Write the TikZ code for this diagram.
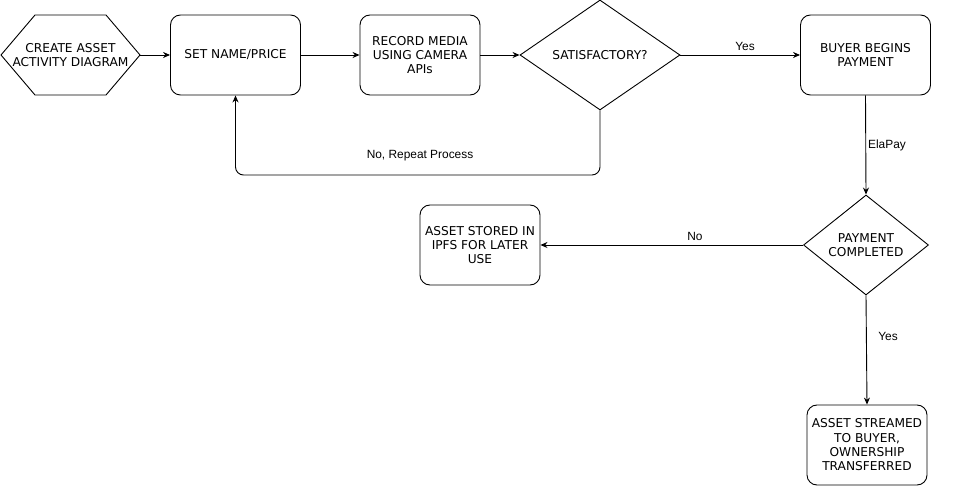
\documentclass[tikz,border=0pt]{standalone}
\usepackage{fontspec}
\setmainfont{DejaVu Sans}
\newfontfamily\lblfont{Liberation Sans}
\usetikzlibrary{shapes.geometric,arrows.meta}
\begin{document}
\begin{tikzpicture}[x=1pt,y=-1pt,
  every node/.style={font=\fontsize{12.2}{14.3}\selectfont},
  rbox/.style={draw,line width=0.9pt,rounded corners=10pt,minimum width=130pt,minimum height=80pt,inner sep=0pt,align=center},
  dia/.style={draw,line width=0.9pt,shape=diamond,inner sep=0pt,align=center},
  conn/.style={line width=0.9pt,-{Stealth[length=7pt,width=6pt]}},
  lbl/.style={font=\lblfont\fontsize{11.9}{13}\selectfont,inner sep=0pt}]
\useasboundingbox (0,0) rectangle (964,486);
\fill[white] (0,0) rectangle (964,486);
% hexagon
\node[minimum width=139pt,minimum height=80pt,inner sep=0pt,align=center] (hex) at (70.5,55) {CREATE ASSET\\ACTIVITY DIAGRAM};
\draw[line width=0.9pt] (1,55) -- (35,15) -- (106,15) -- (140,55) -- (106,95) -- (35,95) -- cycle;
\node[rbox] (set) at (235.5,55) {SET NAME/PRICE};
\node[rbox,minimum width=120pt] (rec) at (420,55) {RECORD MEDIA\\USING CAMERA\\APIs};
\node[dia,minimum width=160pt,minimum height=110pt] (sat) at (600,55) {SATISFACTORY?};
\node[rbox] (buy) at (865.5,55) {BUYER BEGINS\\PAYMENT};
\node[dia,minimum width=125pt,minimum height=100pt] (pay) at (866,245) {PAYMENT\\COMPLETED};
\node[rbox,minimum width=120pt] (ipfs) at (480,245) {ASSET STORED IN\\IPFS FOR LATER\\USE};
\node[rbox,minimum width=120pt] (str) at (867,445) {ASSET STREAMED\\TO BUYER,\\OWNERSHIP\\TRANSFERRED};
\coordinate (c1) at (600,175);
\coordinate (c2) at (235.5,175);
\draw[conn] (hex.east) -- (set.west);
\draw[conn] (set.east) -- (rec.west);
\draw[conn] (rec.east) -- (sat.west);
\draw[conn] (sat.east) -- (buy.west);
\draw[conn,rounded corners=8pt] (sat.south) -- (c1) -- (c2) -- (set.south);
\draw[conn] (buy.south) -- (pay.north);
\draw[conn] (pay.west) -- (ipfs.east);
\draw[conn] (pay.south) -- (str.north);
\node[lbl] (l1) at (745,46) {Yes};
\node[lbl] (l2) at (420,156) {No, Repeat Process};
\node[lbl] (l3) at (887,145) {ElaPay};
\node[lbl] (l4) at (695,236) {No};
\node[lbl] (l5) at (888,336) {Yes};
\end{tikzpicture}
\end{document}
